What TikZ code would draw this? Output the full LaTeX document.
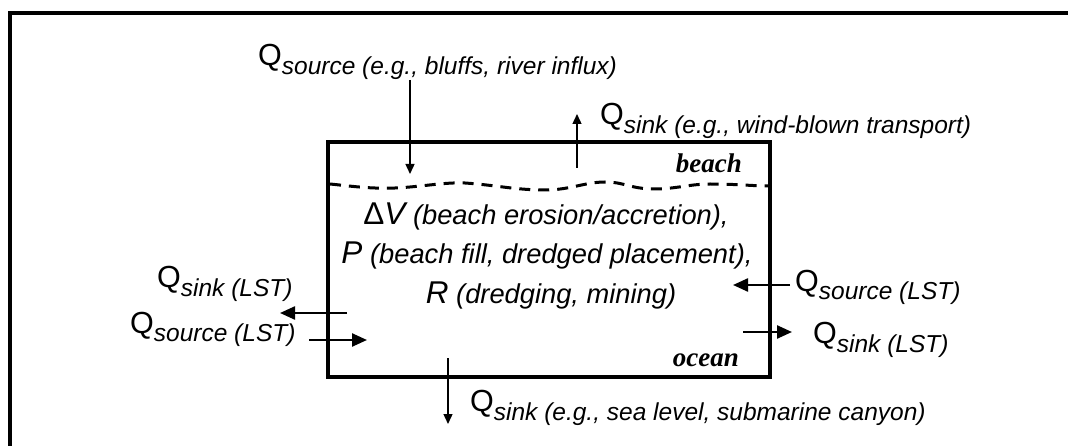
\documentclass[tikz,border=0pt]{standalone}
\usepackage{fontspec}
\setmainfont{Liberation Sans}
\newfontfamily\timesfont{Liberation Serif}
\usetikzlibrary{arrows.meta}
\newcommand{\bigQ}{{\fontsize{30.5}{30.5}\selectfont Q}}
\newcommand{\Qsub}[1]{\bigQ\raisebox{-9pt}{\fontsize{24.5}{24.5}\selectfont\itshape #1}}
\newcommand{\paren}[1]{{\fontsize{27.3}{27.3}\selectfont\itshape\ #1}}
\newcommand{\bigsym}[1]{{\fontsize{31.5}{31.5}\selectfont #1}}
\tikzset{
  lbl/.style={inner sep=0pt, anchor=base west},
  mid/.style={inner sep=0pt, anchor=base},
  hflow/.style={line width=2.4pt, -{Triangle[length=15pt,width=13pt]}},
  vflow/.style={line width=1.4pt, -{Triangle[length=10pt,width=9pt]}},
  boxline/.style={line width=4.5pt},
  zone/.style={inner sep=0pt, anchor=base east, font=\timesfont\bfseries\itshape\fontsize{27}{27}\selectfont},
}
\begin{document}
\begin{tikzpicture}[x=1pt,y=-1pt]
\useasboundingbox (0,0) rectangle (1068,446);
% outer frame
\draw[line width=4pt] (10,446) -- (10,13) -- (1068,13);
% control volume
\draw[boxline] (328,142) rectangle (770,377);
% shoreline
\draw[line width=3pt, dash pattern=on 11pt off 8pt]
  (330,184) .. controls (350,186) and (370,189) .. (395,188)
  .. controls (420,187) and (445,182) .. (465,183)
  .. controls (495,185) and (515,190) .. (545,190)
  .. controls (570,190) and (585,182) .. (605,182)
  .. controls (625,182) and (630,189) .. (655,189)
  .. controls (675,189) and (690,184) .. (710,184)
  .. controls (735,184) and (755,186) .. (768,186);
% zone labels
\node[zone] (beach) at (742,173) {beach};
\node[zone] (ocean) at (739,366) {ocean};
% central text
\node[mid] (dv) at (546,225) {\bigsym{Δ\itshape V}\paren{(beach erosion/accretion),}};
\node[mid] (p) at (547,264) {\bigsym{\itshape P}\paren{(beach fill, dredged placement),}};
\node[mid] (r) at (551,304) {\bigsym{\itshape R}\paren{(dredging, mining)}};
% labels
\node[lbl] (qtop) at (258,66) {\Qsub{source (e.g., bluffs, river influx)}};
\node[lbl] (qwind) at (600,125) {\Qsub{sink (e.g., wind-blown transport)}};
\node[lbl] (qsinkL) at (157,288) {\Qsub{sink (LST)}};
\node[lbl] (qsrcL) at (130,333) {\Qsub{source (LST)}};
\node[lbl] (qsrcR) at (795,291) {\Qsub{source (LST)}};
\node[lbl] (qsinkR) at (813,343) {\Qsub{sink (LST)}};
\node[lbl] (qbot) at (470,411) {\Qsub{sink (e.g., sea level, submarine canyon)}};
% arrow end points
\coordinate (a1s) at (410,80);  \coordinate (a1e) at (410,174);
\coordinate (a2s) at (577,168); \coordinate (a2e) at (577,114);
\coordinate (a3s) at (347,313); \coordinate (a3e) at (280,313);
\coordinate (a4s) at (309,340); \coordinate (a4e) at (367,340);
\coordinate (a5s) at (790,285); \coordinate (a5e) at (733,285);
\coordinate (a6s) at (743,332); \coordinate (a6e) at (792,332);
\coordinate (a7s) at (448,358); \coordinate (a7e) at (448,424);
\draw[vflow] (a1s) -- (a1e);
\draw[vflow] (a2s) -- (a2e);
\draw[hflow] (a3s) -- (a3e);
\draw[hflow] (a4s) -- (a4e);
\draw[hflow] (a5s) -- (a5e);
\draw[hflow] (a6s) -- (a6e);
\draw[vflow] (a7s) -- (a7e);
\end{tikzpicture}
\end{document}
